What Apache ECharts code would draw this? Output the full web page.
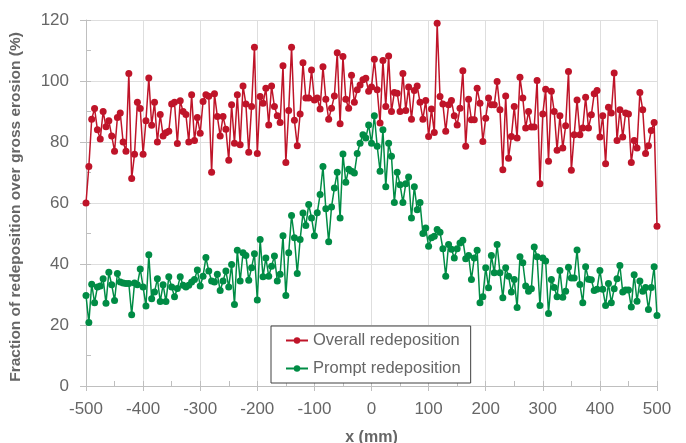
<!DOCTYPE html>
<html>
<head>
<meta charset="utf-8">
<script src="https://cdn.jsdelivr.net/npm/echarts@6/dist/echarts.min.js"></script>
<style>
html,body{margin:0;padding:0;background:#fff;}
#chart{width:686px;height:443px;}
</style>
</head>
<body>
<div id="chart"></div>
<script>
// x positions (mm)
const xPositions = [
-500,-495,-490,-485,-480,-475,-470,-465,-460,-455,-450,-445,-440,-435,-430,-425,-420,-415,-410,-405,
-400,-395,-390,-385,-380,-375,-370,-365,-360,-355,-350,-345,-340,-335,-330,-325,-320,-315,-310,-305,
-300,-295,-290,-285,-280,-275,-270,-265,-260,-255,-250,-245,-240,-235,-230,-225,-220,-215,-210,-205,
-200,-195,-190,-185,-180,-175,-170,-165,-160,-155,-150,-145,-140,-135,-130,-125,-120,-115,-110,-105,
-100,-95,-90,-85,-80,-75,-70,-65,-60,-55,-50,-45,-40,-35,-30,-25,-20,-15,-10,-5,
0,5,10,15,20,25,30,35,40,45,50,55,60,65,70,75,80,85,90,95,
100,105,110,115,120,125,130,135,140,145,150,155,160,165,170,175,180,185,190,195,
200,205,210,215,220,225,230,235,240,245,250,255,260,265,270,275,280,285,290,295,
300,305,310,315,320,325,330,335,340,345,350,355,360,365,370,375,380,385,390,395,
400,405,410,415,420,425,430,435,440,445,450,455,460,465,470,475,480,485,490,495,500
];

const overallRedeposition = [
60,72,87.5,91,84,81,90,85,87,82,77,88,89.5,80,77,102.5,68,76,93,91,
76,87,101,85.5,93,80,89,82,83,83.5,92.5,93,79.5,93.5,90,89,80,95.5,80.5,88,
82.9,93.3,95.5,95,70.1,95.8,88.4,82,88.4,84.2,74,92.2,79.6,95.5,79.1,98.4,92.5,76.6,91.6,111.1,
76.2,94.9,92.7,97.6,85.6,98.4,91.6,88.6,86.4,105,73.3,90.3,111.1,87.1,78.8,89.2,106,94.4,94.4,103.6,
93.8,94.4,90.8,104.7,94,87.5,91.1,95.1,109.3,86,108,94,91.1,101.9,93,97.1,98.7,100.4,100.9,96.6,
98,107.1,97.1,86.2,106.7,91.6,108.2,90,96.2,96,90,102.5,90.3,98,87.5,96.9,98.4,93,87.5,93.6,
81.8,90.8,83.1,118.9,94.9,92.5,83.5,92.2,93.6,88.6,85.6,91.1,103.4,78.6,94,87.3,87.3,97.6,92.7,80.2,
87.8,94.4,92.2,92.2,99.8,90.6,70.9,95.1,74.7,81.8,91.6,81.3,101.2,94.4,84.6,90,84.9,84.9,100.2,66.3,
89.2,97.3,73.7,96.6,90,77.3,88.6,78,85.3,103.1,70.7,82.4,93.8,82.4,84.6,94.7,84.6,88.9,95.8,96.9,
81.6,88.6,72.9,91.4,89.5,102.6,80.5,90.6,81.6,89.5,89.2,73.3,80.5,78,96.2,90.6,76.2,78.8,83.8,86.4,52.4
];

const promptRedeposition = [
29.7,20.8,33.4,27.3,32.5,32.8,35.2,27.1,37.3,33.2,28,36.9,34.1,33.8,33.6,33.6,23.4,33.8,33.2,38.4,
32.5,26.2,43,28.6,30.8,35.2,27.7,33.2,27.7,35.8,32.5,29.3,32,35.8,33,32.5,33,34.1,34.9,38,
32.8,36,42.1,37.7,34.4,34.1,36.6,31.3,34.4,37.7,32.5,39.8,26.7,44.5,34.4,43.7,42.8,34.7,38.8,43.4,
28.2,48,35.8,42,36,39.3,42.6,34.4,36.6,49.3,29.7,43.7,55.9,48.6,36.9,48,56.7,52.6,59.5,55.1,
49.3,56.8,62.8,72,58.1,47.3,58.7,64.9,70.1,55.1,76.1,66.8,71.1,70.4,69.8,76.2,79.6,82.4,81.3,85.6,
79.6,88.6,78.6,70.4,84,65.3,79.6,75.3,60.2,70.1,66,60.2,66.3,68.5,55.1,65.3,57.8,60.2,50,51.8,
45.8,48.6,49.1,51.3,50.4,45,36,46.4,44.8,42,45,46.9,47.8,41.7,42.8,34.9,42,44.5,27.3,29.3,
38.8,32.2,42.8,37.1,46.4,37.1,28.9,38.8,36,30.8,34.9,25.7,42.4,40.4,32.8,31.1,31.9,45.6,42.4,26.4,
42,41,23.8,34.9,32.3,29.3,37.9,29.1,31.1,38.9,35.4,35.4,44.6,33.3,27.3,39.1,35,34.8,31.3,31.7,
37.9,31.7,26.4,33.6,27.3,31.9,35.2,39.5,30.8,31.5,31.5,25.9,36.5,27.8,34.4,31.1,32.3,25.1,32.3,39.1,23.1
];

const seriesNames = ['Overall redeposition', 'Prompt redeposition'];
const xAxisTitle = 'x (mm)';
const yAxisTitle = 'Fraction of redeposition over gross erosion (%)';

const FONT = "'Liberation Sans', Arial, sans-serif";
const RED = '#BF1429';
const GREEN = '#008C45';
const AXIS = '#bfbfbf';
const GRID = '#dedede';
const TEXT = '#666666';

const pairs = (ys) => xPositions.map((x, i) => [x, ys[i]]);

const chart = echarts.init(document.getElementById('chart'), null, {renderer: 'canvas'});
chart.setOption({
  animation: false,
  backgroundColor: '#ffffff',
  grid: {left: 86, right: 29, top: 20, bottom: 57, containLabel: false, outerBoundsMode: 'none'},
  legend: {
    orient: 'vertical',
    left: 271, top: 326,
    padding: [6, 10, 6, 14],
    itemGap: 11,
    itemWidth: 22, itemHeight: 8,
    borderColor: '#404040', borderWidth: 1,
    backgroundColor: '#ffffff',
    textStyle: {fontFamily: FONT, fontSize: 16.5, color: TEXT},
    data: seriesNames
  },
  xAxis: [{
    type: 'value', min: -500, max: 500, interval: 100,
    axisLine: {show: true, onZero: false, lineStyle: {color: AXIS, width: 1}},
    axisTick: {show: true, inside: false, length: 5, lineStyle: {color: AXIS}},
    splitLine: {show: true, lineStyle: {color: GRID, width: 1}},
    axisLabel: {fontFamily: FONT, fontSize: 17, color: TEXT, margin: 15},
    name: xAxisTitle, nameLocation: 'middle', nameGap: 44,
    nameTextStyle: {fontFamily: FONT, fontSize: 16, fontWeight: 'bold', color: TEXT}
  }, {
    type: 'value', min: -500, max: 500, interval: 50, position: 'bottom',
    axisLine: {show: false, onZero: false},
    axisTick: {show: true, inside: true, length: 5, lineStyle: {color: AXIS}},
    splitLine: {show: false},
    axisLabel: {show: false}
  }],
  yAxis: [{
    type: 'value', min: 0, max: 120, interval: 20,
    axisLine: {show: true, onZero: false, lineStyle: {color: AXIS, width: 1}},
    axisTick: {show: true, inside: false, length: 6, lineStyle: {color: AXIS}},
    splitLine: {show: true, lineStyle: {color: GRID, width: 1}},
    axisLabel: {fontFamily: FONT, fontSize: 17, color: TEXT, margin: 17},
    name: yAxisTitle, nameLocation: 'middle', nameGap: 62,
    nameTextStyle: {fontFamily: FONT, fontSize: 15.5, fontWeight: 'bold', color: TEXT, padding: [0, 8, 0, 0]}
  }, {
    type: 'value', min: 0, max: 120, interval: 10, position: 'left',
    axisLine: {show: false, onZero: false},
    axisTick: {show: true, inside: true, length: 5, lineStyle: {color: AXIS}},
    splitLine: {show: false},
    axisLabel: {show: false}
  }],
  series: [{
    name: seriesNames[0], type: 'line', xAxisIndex: 0, yAxisIndex: 0,
    data: pairs(overallRedeposition),
    symbol: 'circle', symbolSize: 7, showAllSymbol: true,
    itemStyle: {color: RED}, lineStyle: {color: RED, width: 1.5},
    z: 3
  }, {
    name: seriesNames[1], type: 'line', xAxisIndex: 0, yAxisIndex: 0,
    data: pairs(promptRedeposition),
    symbol: 'circle', symbolSize: 7, showAllSymbol: true,
    itemStyle: {color: GREEN}, lineStyle: {color: GREEN, width: 1.5},
    z: 2
  }]
});
</script>
</body>
</html>
